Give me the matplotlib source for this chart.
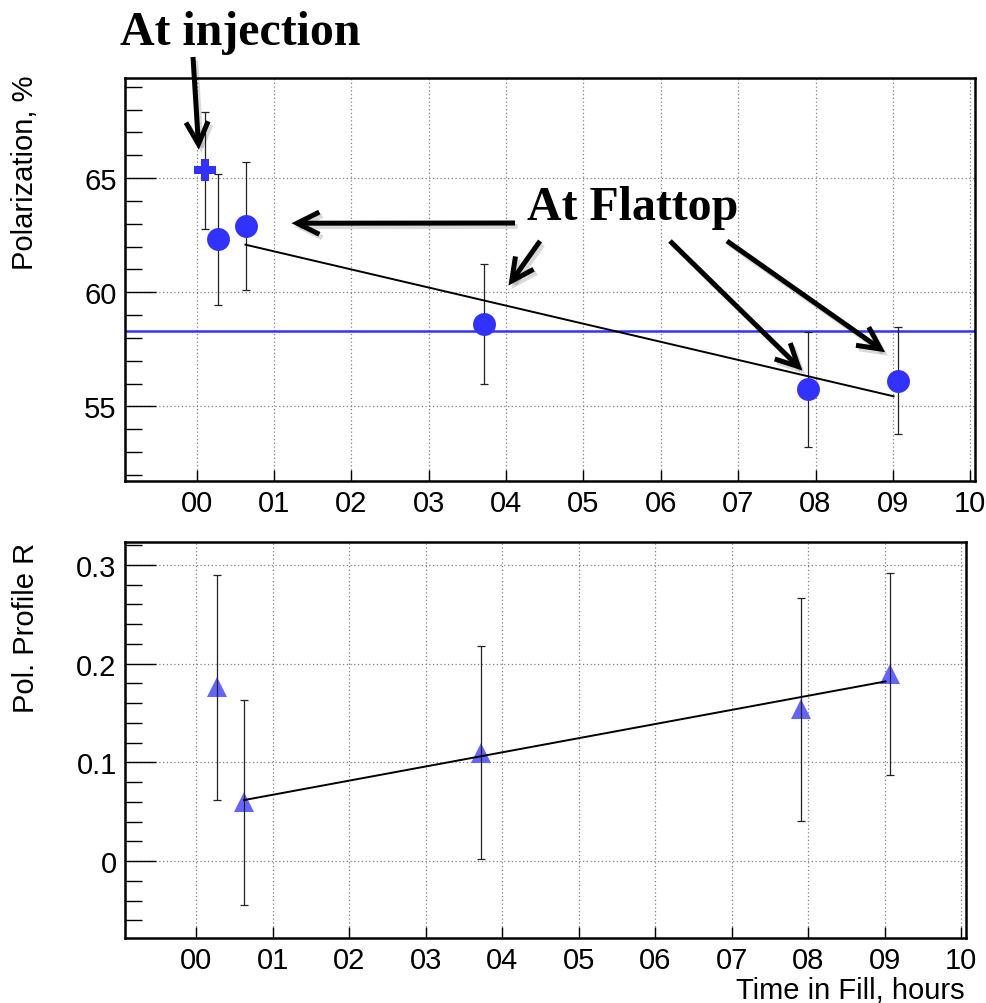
import matplotlib
matplotlib.use("Agg")
import matplotlib.pyplot as plt
import matplotlib.patheffects as pe
import numpy as np

# ---------------- data ----------------
hour_ticks = [0, 1, 2, 3, 4, 5, 6, 7, 8, 9, 10]
hour_labels = ["00", "01", "02", "03", "04", "05", "06", "07", "08", "09", "10"]

time_inj = [0.10]
pol_inj = [65.33]
pol_inj_err = [2.57]

time_flat = [0.27, 0.63, 3.71, 7.90, 9.06]
pol_flat = [62.31, 62.89, 58.61, 55.74, 56.12]
pol_flat_err = [2.86, 2.79, 2.62, 2.50, 2.35]

avg_pol = 58.32

fit_pol_x = [0.63, 9.01]
fit_pol_y = [62.08, 55.44]

time_r = [0.27, 0.63, 3.72, 7.90, 9.07]
prof_r = [0.176, 0.0595, 0.1097, 0.1538, 0.1895]
prof_r_err = [0.114, 0.104, 0.108, 0.113, 0.102]

fit_r_x = [0.63, 9.01]
fit_r_y = [0.0618, 0.182]

# ---------------- style ----------------
W, H = 986, 1004
SANS = ["Liberation Sans", "DejaVu Sans"]
SERIF = ["Liberation Serif", "DejaVu Serif"]
plt.rcParams["font.family"] = SANS

fig = plt.figure(figsize=(W / 100, H / 100), dpi=100)

def px_axes(l, t, r, b):
    return fig.add_axes([l / W, 1 - b / H, (r - l) / W, (b - t) / H])

ax1 = px_axes(125, 79, 975, 482)
ax2 = px_axes(125, 543, 966, 939)

blue = "#3232ff"
tri_blue = "#6464ff"

for ax in (ax1, ax2):
    ax.set_xlim(-0.928, 10.062)
    ax.set_xticks(hour_ticks)
    ax.set_xticklabels(hour_labels)
    ax.set_axisbelow(True)
    ax.grid(True, which="major", color="#808080", linestyle=(0, (1, 2)), linewidth=0.9)
    for s in ax.spines.values():
        s.set_linewidth(1.8)
    ax.tick_params(axis="both", which="both", direction="in", top=False, right=False,
                   labelsize=21, width=1.0, colors="black")
    ax.tick_params(axis="y", which="major", length=22, pad=6)
    ax.tick_params(axis="y", which="minor", length=12)
    ax.tick_params(axis="x", which="major", length=8, pad=6)
    ax.tick_params(axis="x", which="minor", bottom=False)

# ---- top panel ----
ax1.set_ylim(51.73, 69.38)
ax1.set_yticks([55, 60, 65])
ax1.set_yticks(np.arange(52, 70, 1), minor=True)

ax1.axhline(avg_pol, color=blue, lw=1.8, zorder=2)
ax1.errorbar(time_inj, pol_inj, yerr=pol_inj_err, fmt="none", ecolor="#222222",
             elinewidth=0.9, capsize=3, capthick=0.9, zorder=3)
ax1.errorbar(time_flat, pol_flat, yerr=pol_flat_err, fmt="none", ecolor="#222222",
             elinewidth=0.9, capsize=3, capthick=0.9, zorder=3)
ax1.plot(fit_pol_x, fit_pol_y, color="black", lw=1.4, zorder=4)
ax1.plot(time_flat, pol_flat, "o", color=blue, markersize=16.5, markeredgewidth=0, zorder=5)
ax1.plot(time_inj, pol_inj, "P", color=blue, markersize=16.5, markeredgewidth=0, zorder=5)

# ---- bottom panel ----
ax2.set_ylim(-0.078, 0.3233)
ax2.set_yticks([0, 0.1, 0.2, 0.3])
ax2.set_yticklabels(["0", "0.1", "0.2", "0.3"])
ax2.set_yticks(np.arange(-0.06, 0.33, 0.02), minor=True)

ax2.plot(time_r, prof_r, "^", color=tri_blue, markersize=15, markeredgewidth=0, zorder=3)
ax2.errorbar(time_r, prof_r, yerr=prof_r_err, fmt="none", ecolor="#222222",
             elinewidth=0.9, capsize=3, capthick=0.9, zorder=4)
ax2.plot(fit_r_x, fit_r_y, color="black", lw=1.4, zorder=5)

# ---- axis titles ----
fig.text(25 / W, 1 - 76 / H, "Polarization, %", rotation=90, ha="center", va="top", fontsize=21)
fig.text(26 / W, 1 - 543 / H, "Pol. Profile R", rotation=90, ha="center", va="top", fontsize=21)
fig.text(965 / W, 1 - 999 / H, "Time in Fill, hours", ha="right", va="baseline", fontsize=21)

# ---- annotations ----
fig.text(120 / W, 1 - 45 / H, "At injection", family=SERIF, fontweight="bold",
         fontsize=34.5, ha="left", va="baseline")
fig.text(527 / W, 1 - 220 / H, "At Flattop", family=SERIF, fontweight="bold",
         fontsize=34.5, ha="left", va="baseline")

# arrows: (tip in data coords of top panel, tail in image pixels)
arrow_tips = [(0.026, 66.24), (1.225, 63.02), (4.03, 60.29), (7.83, 56.57), (8.90, 57.37)]
arrow_tails_px = [(193, 58), (515, 224), (540, 242), (670, 242), (727, 242)]
for tip, tail in zip(arrow_tips, arrow_tails_px):
    ax1.annotate("", xy=tip, xycoords="data",
                 xytext=(tail[0], H - tail[1]), textcoords="figure pixels",
                 annotation_clip=False,
                 arrowprops=dict(arrowstyle="->,head_length=1.6,head_width=0.8",
                                 mutation_scale=10, lw=3.6, color="black",
                                 shrinkA=0, shrinkB=0, capstyle="butt", joinstyle="miter",
                                 path_effects=[pe.SimpleLineShadow(offset=(2, -2.5),
                                                                   shadow_color="black",
                                                                   alpha=0.15),
                                               pe.Normal()]),
                 zorder=10)

fig.savefig("out.png", dpi=100)
